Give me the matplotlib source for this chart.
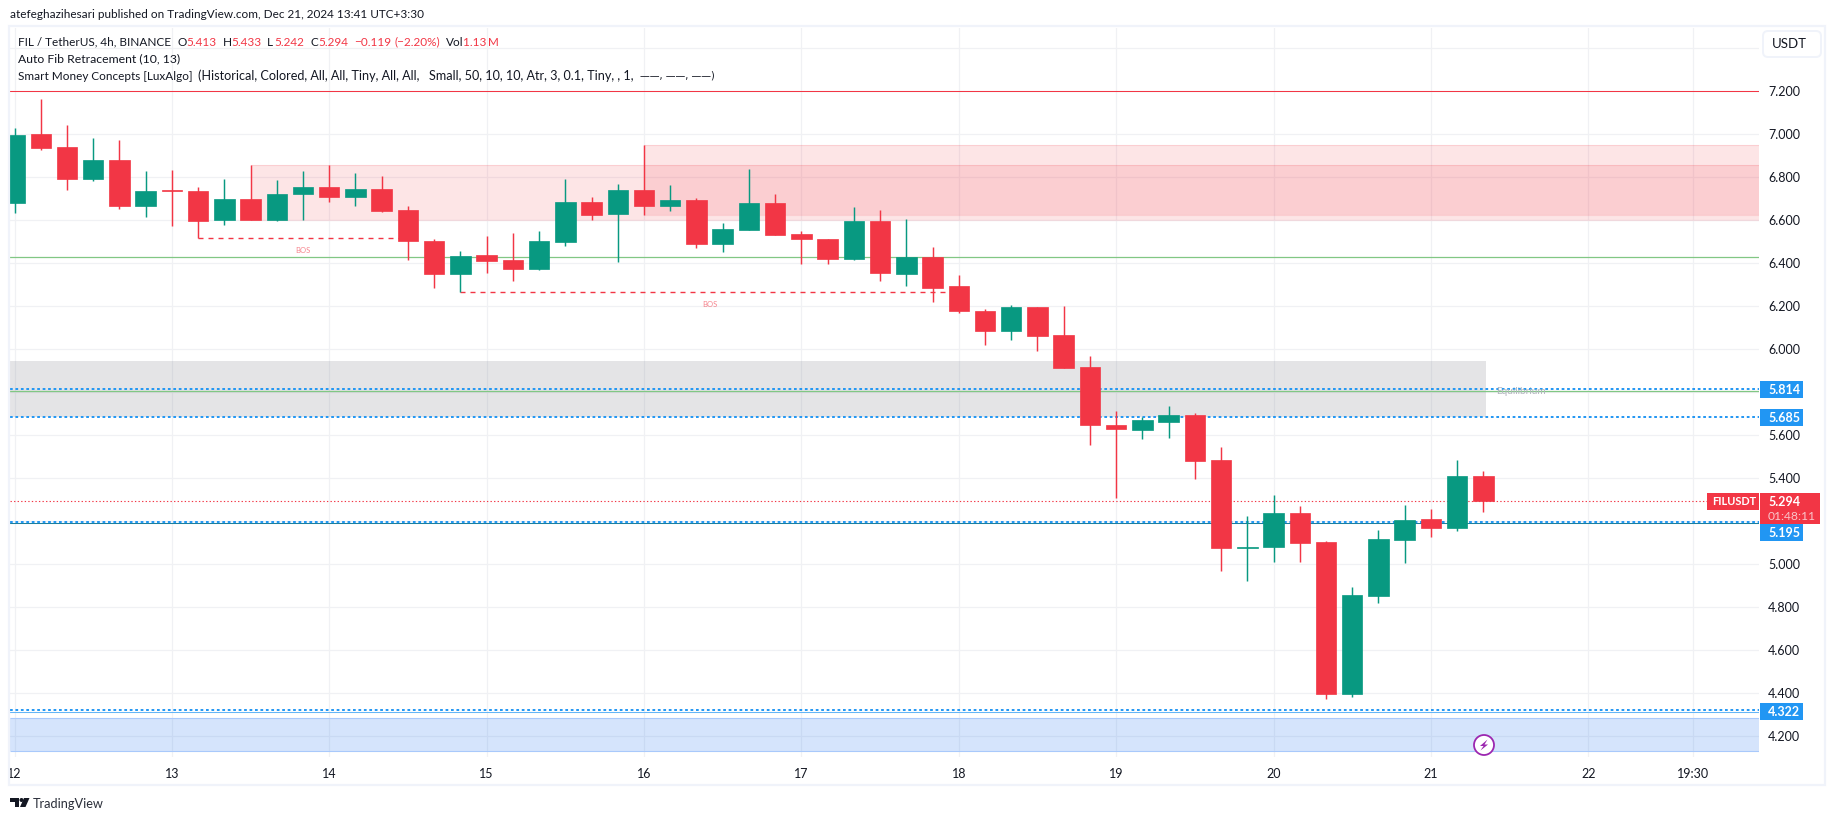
import numpy as np
import matplotlib
matplotlib.use("Agg")
import matplotlib.pyplot as plt
from matplotlib.patches import Rectangle, FancyBboxPatch, Circle, Polygon

plt.rcParams["font.family"] = ["Lato", "DejaVu Sans"]

# ---------------------------------------------------------
# Data (FIL / USDT, 4h bars)
# ---------------------------------------------------------
opens = [6.682, 7.001, 6.941, 6.793, 6.881, 6.668, 6.741, 6.736, 6.603, 6.699,
         6.603, 6.724, 6.755, 6.710, 6.746, 6.648, 6.504, 6.352, 6.439, 6.415,
         6.375, 6.500, 6.685, 6.631, 6.741, 6.667, 6.695, 6.490, 6.555, 6.680,
         6.536, 6.513, 6.420, 6.597, 6.350, 6.429, 6.294, 6.178, 6.085, 6.197,
         6.067, 5.918, 5.648, 5.625, 5.662, 5.694, 5.485, 5.076, 5.080, 5.239,
         5.104, 4.397, 4.853, 5.113, 5.211, 5.169, 5.413]
highs = [7.029, 7.164, 7.043, 6.983, 6.974, 6.829, 6.834, 6.755, 6.792, 6.857,
         6.787, 6.829, 6.857, 6.820, 6.806, 6.667, 6.513, 6.457, 6.527, 6.541,
         6.550, 6.792, 6.708, 6.769, 6.950, 6.764, 6.704, 6.587, 6.839, 6.722,
         6.550, 6.513, 6.662, 6.648, 6.606, 6.476, 6.346, 6.187, 6.206, 6.197,
         6.201, 5.969, 5.713, 5.685, 5.736, 5.704, 5.546, 5.225, 5.322, 5.271,
         5.108, 4.894, 5.160, 5.276, 5.257, 5.485, 5.433]
lows = [6.635, 6.928, 6.742, 6.784, 6.654, 6.617, 6.575, 6.516, 6.579, 6.603,
        6.598, 6.603, 6.687, 6.668, 6.640, 6.417, 6.286, 6.265, 6.356, 6.319,
        6.370, 6.482, 6.603, 6.408, 6.625, 6.643, 6.471, 6.453, 6.555, 6.532,
        6.397, 6.397, 6.415, 6.318, 6.294, 6.220, 6.169, 6.020, 6.043, 5.992,
        5.913, 5.555, 5.308, 5.583, 5.587, 5.397, 4.969, 4.922, 5.011, 5.011,
        4.374, 4.383, 4.820, 5.006, 5.127, 5.155, 5.242]
closes = [6.997, 6.938, 6.793, 6.881, 6.668, 6.736, 6.738, 6.598, 6.699, 6.603,
          6.722, 6.755, 6.710, 6.746, 6.645, 6.505, 6.352, 6.434, 6.412, 6.375,
          6.504, 6.685, 6.626, 6.741, 6.667, 6.695, 6.490, 6.560, 6.680, 6.532,
          6.513, 6.420, 6.597, 6.355, 6.429, 6.285, 6.178, 6.085, 6.197, 6.062,
          5.913, 5.648, 5.629, 5.671, 5.694, 5.480, 5.076, 5.080, 5.239, 5.099,
          4.397, 4.857, 5.118, 5.206, 5.169, 5.411, 5.294]

# tick positions in bars, 6 bars per day
day_ticks = [0, 6, 12, 18, 24, 30, 36, 42, 48, 54, 60, 64]
day_labels = ["12", "13", "14", "15", "16", "17", "18", "19", "20", "21", "22", "19:30"]
price_ticks = [4.2, 4.4, 4.6, 4.8, 5.0, 5.2, 5.4, 5.6, 5.8, 6.0, 6.2, 6.4, 6.6, 6.8, 7.0, 7.2, 7.4]
price_labels = ["4.200", "4.400", "4.600", "4.800", "5.000", "", "5.400", "5.600", "", "6.000",
                "6.200", "6.400", "6.600", "6.800", "7.000", "7.200", ""]

# zones: left bar, bottom, top
supply_left = [9, 24]
supply_low = [6.603, 6.625]
supply_high = [6.857, 6.950]
equil_low, equil_high = 5.685, 5.946
demand_low, demand_high = 4.133, 4.285

# levels
red_level = 7.2
green_levels = [6.428, 5.806]
teal_level = 5.192
lightblue_level = 4.312
dotted_levels = [5.814, 5.685, 5.195, 4.322]
last_price = 5.294

# break of structure: start bar, end bar, price
bos_start = [7, 17]
bos_end = [15, 36]
bos_price = [6.516, 6.265]

# ---------------------------------------------------------
# Colours
# ---------------------------------------------------------
RED = "#F23645"
GREEN = "#089981"
BLUE = "#2196F3"
INK = "#131722"
FRAME = "#F0F3FA"
GRID = "#F0F1F4"
LEGEND_SIZE = 8.5

# ---------------------------------------------------------
# Figure and axes (pixel layout)
# ---------------------------------------------------------
W, H = 1835, 821
fig = plt.figure(figsize=(W / 100, H / 100), dpi=100, facecolor="white")

left, right, top, bottom = 10, 1759, 28, 757
ax = fig.add_axes([left / W, 1 - bottom / H, (right - left) / W, (bottom - top) / H])
ax.set_zorder(1)

bar_px = 26.23
x0_px = 14.5
ax.set_xlim((left - x0_px) / bar_px, (right - x0_px) / bar_px)
px_per_price = 215.0
ax.set_ylim(6 - (bottom - 349.3) / px_per_price, 6 - (top - 349.3) / px_per_price)
xmin, xmax = ax.get_xlim()

for s in ax.spines.values():
    s.set_visible(False)

ax.set_xticks(day_ticks)
ax.set_xticklabels(day_labels, fontsize=9, color=INK)
ax.yaxis.tick_right()
ax.set_yticks(price_ticks)
ax.set_yticklabels(price_labels, fontsize=9, color=INK)
ax.tick_params(axis="x", length=0, pad=8)
ax.tick_params(axis="y", length=0, pad=6.5)
ax.grid(color=GRID, linewidth=0.9)
ax.set_axisbelow(True)

# zones
for l, lo, hi in zip(supply_left, supply_low, supply_high):
    ax.fill_between([l, xmax], lo, hi, color=RED, alpha=0.13, linewidth=0, zorder=1)
    ax.hlines([lo, hi], l, xmax, color=RED, alpha=0.13, linewidth=0.8, zorder=1)
ax.fill_between([xmin, 56.1], equil_low, equil_high, color="#787B86", alpha=0.2, linewidth=0, zorder=1)
ax.fill_between([xmin, xmax], demand_low, demand_high, color="#2F7BF2", alpha=0.2, linewidth=0, zorder=1)
ax.hlines([demand_low, demand_high], xmin, xmax, color="#A9C9FB", linewidth=0.8, zorder=1.1)

# levels
ax.axhline(red_level, color=RED, linewidth=0.75, zorder=2)
for lvl in green_levels:
    ax.axhline(lvl, color="#81C784", linewidth=0.9, zorder=2)
ax.axhline(teal_level, color="#1B7F9E", linewidth=0.75, zorder=2)
ax.axhline(lightblue_level, color="#64B5F6", linewidth=0.75, zorder=2)
for lvl in dotted_levels:
    ax.axhline(lvl, color=BLUE, linewidth=1.4, dashes=(1.4, 1.4), zorder=2.2)
ax.axhline(last_price, color=RED, linewidth=0.8, dashes=(1.2, 2.0), zorder=2.1)

# break of structure lines
for a, b, p in zip(bos_start, bos_end, bos_price):
    ax.hlines(p, a, b, color=RED, linewidth=1.0, linestyles=(0, (3.6, 3.6)), zorder=2.5)
    ax.text((a + b) / 2, p - 0.058, "BOS", color=RED, alpha=0.6, fontsize=5.5,
            ha="center", va="center", zorder=2.5)

ax.text(57.45, 5.806, "Equilibrium", color="#B2B5BE", fontsize=7.2, ha="center", va="center", zorder=2.5)

# candles
xs = np.arange(len(opens))
o = np.array(opens)
c = np.array(closes)
colors = [GREEN if ci >= oi else RED for oi, ci in zip(opens, closes)]
ax.vlines(xs, lows, highs, color=colors, linewidth=1.05, zorder=3)
ax.bar(xs, np.abs(c - o), width=0.78, bottom=np.minimum(o, c), color=colors,
       edgecolor=colors, linewidth=0.5, zorder=3.5)

# ---------------------------------------------------------
# Chrome in pixel coordinates
# ---------------------------------------------------------
ch = fig.add_axes([0, 0, 1, 1], facecolor="none")
ch.set_zorder(2)
ch.set_xlim(0, W)
ch.set_ylim(H, 0)
ch.axis("off")

ch.add_patch(Rectangle((9, 26), 1816, 759, fill=False, edgecolor=FRAME, linewidth=1.6))

ch.text(10, 15, "atefeghazihesari published on TradingView.com, Dec 21, 2024 13:41 UTC+3:30",
        fontsize=LEGEND_SIZE, color=INK, va="center")

legend_row = [(18, "FIL / TetherUS, 4h, BINANCE", INK), (177.5, "O", INK), (186, "5.413", RED),
              (223, "H", INK), (231.5, "5.433", RED), (267, "L", INK), (274, "5.242", RED),
              (310, "C", INK), (318, "5.294", RED), (354, "\u22120.119", RED),
              (394, "(\u22122.20%)", RED), (446, "Vol", INK), (463, "1.13\u2009M", RED)]
for x, t, col in legend_row:
    ch.text(x, 42, t, fontsize=LEGEND_SIZE, color=col, va="center")
ch.text(18, 59, "Auto Fib Retracement (10, 13)", fontsize=8.8, color=INK, va="center")

smc_parts = [(18, "Smart Money Concepts [LuxAlgo]", LEGEND_SIZE),
             (198, "(Historical, Colored, All, All, Tiny, All, All,", 9.1),
             (428.6, "Small, 50, 10, 10, Atr, 3, 0.1, Tiny, , 1,", 9.1)]
for x, t, size in smc_parts:
    ch.text(x, 76, t, fontsize=size, color=INK, va="center")
ch.text(640, 76, "\u2014\u2014, \u2014\u2014, \u2014\u2014)", fontsize=7, family="DejaVu Sans", color=INK, va="center")

# USDT button
ch.add_patch(FancyBboxPatch((1764, 32), 56, 24, boxstyle="round,pad=1,rounding_size=5",
                            facecolor="white", edgecolor=FRAME, linewidth=1.4))
ch.text(1772, 44.5, "USDT", fontsize=9.5, color=INK, va="center")

# price tags
tag_text = ["5.814", "5.685", "5.195", "4.322"]
tag_y = [389.6, 417.3, 532.5, 711.5]
for t, y in zip(tag_text, tag_y):
    ch.add_patch(Rectangle((1760, y - 8.5), 43, 17, facecolor=BLUE, edgecolor="none"))
    ch.text(1768, y + 0.3, t, fontsize=9, fontweight="bold", color="white", va="center")

ch.add_patch(Rectangle((1760, 493), 60, 31, facecolor=RED, edgecolor="none"))
ch.text(1768, 502, "5.294", fontsize=9, fontweight="bold", color="white", va="center")
ch.text(1768, 516, "01:48:11", fontsize=8.7, color="#F9C4C9", va="center")
ch.add_patch(Rectangle((1707, 493), 52, 17, facecolor=RED, edgecolor="none"))
ch.text(1712, 501.8, "FILUSDT", fontsize=7.9, fontweight="bold", color="white", va="center")

# lightning icon
ch.add_patch(Circle((1484, 745), 10, facecolor="white", edgecolor="#9C27B0", linewidth=1.3))
ch.add_patch(Polygon([(1487.5, 739.5), (1480, 746), (1483.5, 746), (1480.5, 750.5),
                      (1488, 744.5), (1484.5, 744.5)], closed=True, facecolor="#9C27B0", edgecolor="none"))

# TradingView logo
ch.add_patch(Polygon([(10, 798), (19, 798), (19, 807), (14.5, 807), (14.5, 802), (10, 802)],
                     closed=True, facecolor=INK, edgecolor="none"))
ch.add_patch(Circle((21.5, 800), 2, facecolor=INK, edgecolor="none"))
ch.add_patch(Polygon([(24, 798), (29.5, 798), (25.5, 807), (20, 807)],
                     closed=True, facecolor=INK, edgecolor="none"))
ch.text(33, 803.5, "TradingView", fontsize=9.2, color="#2A2E39", va="center")

fig.savefig("out.png", dpi=100, facecolor="white")
